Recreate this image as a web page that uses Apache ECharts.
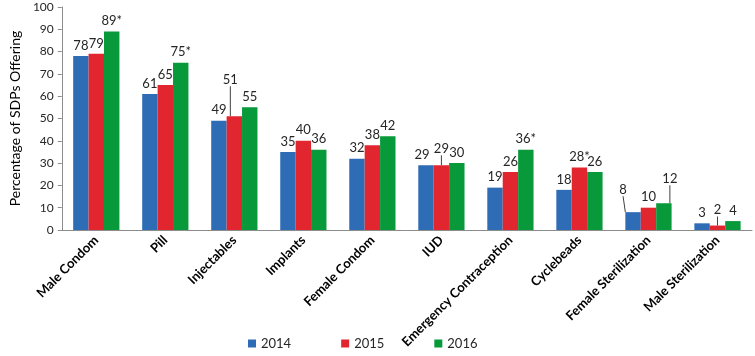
<!DOCTYPE html>
<html>
<head>
<meta charset="utf-8">
<script src="https://cdn.jsdelivr.net/npm/echarts@6/dist/echarts.min.js"></script>
<style>
  html, body { margin: 0; padding: 0; background: #fff; }
  #main { width: 755px; height: 356px; }
</style>
</head>
<body>
<div id="main"></div>
<script>
const methods = ['Male Condom', 'Pill', 'Injectables', 'Implants', 'Female Condom', 'IUD',
  'Emergency Contraception', 'Cyclebeads', 'Female Sterilization', 'Male Sterilization'];
const years = ['2014', '2015', '2016'];
const v2014 = [78, 61, 49, 35, 32, 29, 19, 18, 8, 3];
const v2015 = [79, 65, 51, 40, 38, 29, 26, 28, 10, 2];
const v2016 = [89, 75, 55, 36, 42, 30, 36, 26, 12, 4];
// significant change marked with *
const star2015 = ['Cyclebeads'];
const star2016 = ['Male Condom', 'Pill', 'Emergency Contraception'];

const colors = ['#2e6db5', '#e2262f', '#07993a'];

// label nudges (series index -> category -> [dx, dy]); the ones with a guide line are listed in withLine
const moved = {
  0: { 'IUD': [-4, 0], 'Female Sterilization': [-10, -12] },
  1: { 'Injectables': [-4, -26], 'IUD': [0, -6], 'Male Sterilization': [0, -5] },
  2: { 'Female Sterilization': [6, -14] }
};
const withLine = {
  0: ['Female Sterilization'],
  1: ['Injectables', 'IUD', 'Male Sterilization'],
  2: ['Female Sterilization']
};

function makeData(vals, stars, si) {
  return vals.map(function (v, i) {
    const item = { value: v };
    if (stars.indexOf(methods[i]) >= 0) item.label = { formatter: v + '*' };
    if (withLine[si].indexOf(methods[i]) >= 0) item.labelLine = { show: true };
    return item;
  });
}

const chart = echarts.init(document.getElementById('main'));
const font = 'Lato, "Open Sans", sans-serif';

const series = [v2014, v2015, v2016].map(function (vals, si) {
  const stars = si === 1 ? star2015 : (si === 2 ? star2016 : []);
  return {
    name: years[si],
    type: 'bar',
    barGap: '0%',
    barCategoryGap: '33%',
    itemStyle: { color: colors[si] },
    label: {
      show: true,
      position: 'top',
      distance: 4,
      color: '#262626',
      fontSize: 13,
      fontFamily: font
    },
    labelLine: { show: false, lineStyle: { color: '#404040', width: 1 } },
    labelLayout: function (p) {
      const m = moved[si] && moved[si][methods[p.dataIndex]];
      return m ? { dx: m[0], dy: m[1] } : {};
    },
    data: makeData(vals, stars, si)
  };
});

chart.setOption({
  animation: false,
  textStyle: { fontFamily: font },
  grid: { left: 42, right: 3, top: 7, bottom: 126, containLabel: false },
  legend: {
    bottom: 1,
    left: 243,
    itemWidth: 8,
    itemHeight: 8,
    itemGap: 50,
    icon: 'rect',
    textStyle: { fontSize: 13, color: '#262626', fontFamily: font },
    data: years
  },
  xAxis: {
    type: 'category',
    data: methods,
    axisLine: { lineStyle: { color: '#8c8c8c' } },
    axisTick: { length: 5, lineStyle: { color: '#8c8c8c' } },
    axisLabel: {
      interval: 0,
      rotate: 45,
      margin: 8,
      fontSize: 13,
      fontWeight: 'bold',
      color: '#000',
      fontFamily: font
    }
  },
  yAxis: {
    type: 'value',
    min: 0,
    max: 100,
    interval: 10,
    name: 'Percentage of SDPs Offering',
    nameLocation: 'middle',
    nameGap: 33,
    nameTextStyle: { fontSize: 14, color: '#000', fontFamily: font },
    splitLine: { show: false },
    axisLine: { show: true, lineStyle: { color: '#8c8c8c' } },
    axisTick: { show: true, length: 4, lineStyle: { color: '#8c8c8c' } },
    axisLabel: { fontSize: 12, color: '#262626', margin: 8, fontFamily: font }
  },
  series: series
});
</script>
</body>
</html>
